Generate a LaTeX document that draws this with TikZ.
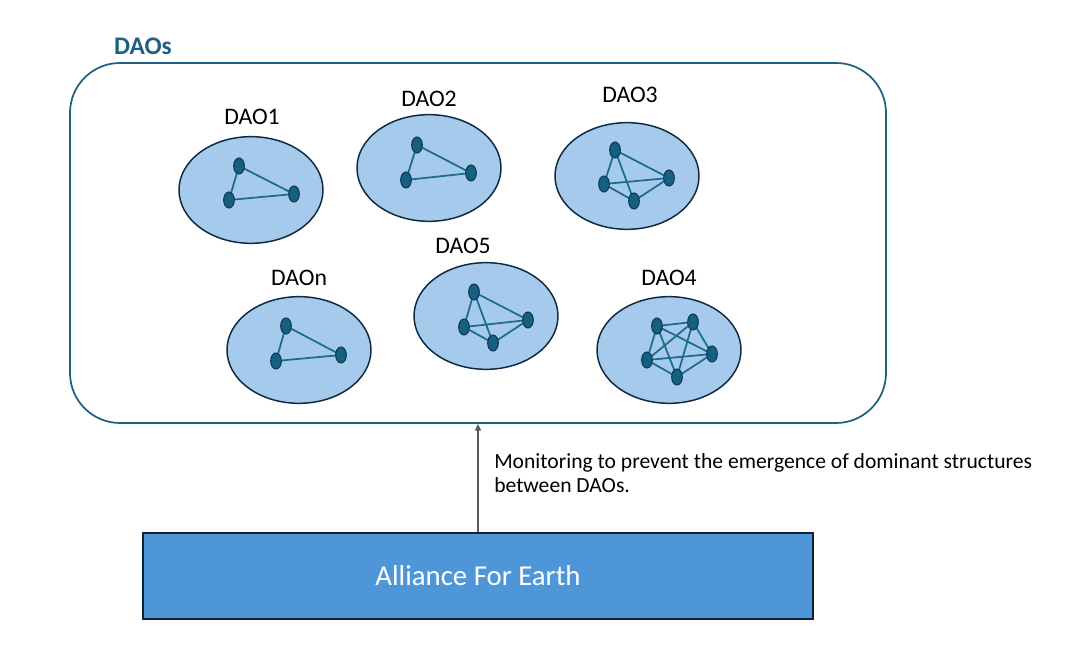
\documentclass[tikz,border=0pt]{standalone}
\usepackage{fontspec}
\setmainfont{Carlito}
\usetikzlibrary{shapes.geometric,arrows.meta}
\definecolor{ellfill}{HTML}{A6CAEC}
\definecolor{elldraw}{HTML}{0E2841}
\definecolor{dotfill}{HTML}{156082}
\definecolor{dotdraw}{HTML}{0E3A52}
\definecolor{edgecol}{HTML}{1E6A8E}
\definecolor{framecol}{HTML}{1F5F82}
\definecolor{boxfill}{HTML}{4F96D8}
\definecolor{boxdraw}{HTML}{0E2235}
\definecolor{arrowcol}{HTML}{595959}
\tikzset{
  daoell/.style={ellipse, draw=elldraw, line width=1.1pt, fill=ellfill, minimum width=108pt, minimum height=80pt, inner sep=0pt},
  dot/.style={ellipse, draw=dotdraw, line width=0.8pt, fill=dotfill, minimum width=8pt, minimum height=12pt, inner sep=0pt},
  edge/.style={draw=edgecol, line width=1.3pt},
  daolabel/.style={font=\fontsize{17.8}{20}\selectfont, text=black, inner sep=0pt},
}
\begin{document}
\begin{tikzpicture}[x=0.75pt,y=-0.75pt]
\useasboundingbox (0,0) rectangle (1067,648);
% frame
\draw[draw=framecol, line width=1.3pt, rounded corners=37.5pt] (70,63) rectangle (886,423);
\node[font=\bfseries\fontsize{19}{22}\selectfont, text=framecol, inner sep=0pt] (daos) at (143,46) {DAOs};
% ellipses
\node[daoell] (e1) at (251,190) {};
\node[daoell] (e2) at (429,168) {};
\node[daoell] (e3) at (627,176) {};
\node[daoell] (en) at (299,350) {};
\node[daoell] (e5) at (486,316) {};
\node[daoell] (e4) at (669,350) {};
% labels
\node[daolabel] (l1) at (252,117) {DAO1};
\node[daolabel] (l2) at (429,99) {DAO2};
\node[daolabel] (l3) at (630,95) {DAO3};
\node[daolabel] (ln) at (299,278) {DAOn};
\node[daolabel] (l5) at (463,246) {DAO5};
\node[daolabel] (l4) at (669,278) {DAO4};
% DAO1
\coordinate (a1) at (239,166); \coordinate (b1) at (229,200); \coordinate (c1) at (294,194);
\draw[edge] (a1) -- (b1) -- (c1) -- (a1);
\node[dot] (d1a) at (a1) {}; \node[dot] (d1b) at (b1) {}; \node[dot] (d1c) at (c1) {};
% DAO2
\coordinate (a2) at (417,145); \coordinate (b2) at (406,180); \coordinate (c2) at (471,173);
\draw[edge] (a2) -- (b2) -- (c2) -- (a2);
\node[dot] (d2a) at (a2) {}; \node[dot] (d2b) at (b2) {}; \node[dot] (d2c) at (c2) {};
% DAOn
\coordinate (an) at (286,326); \coordinate (bn) at (276,361); \coordinate (cn) at (341,355);
\draw[edge] (an) -- (bn) -- (cn) -- (an);
\node[dot] (dna) at (an) {}; \node[dot] (dnb) at (bn) {}; \node[dot] (dnc) at (cn) {};
% DAO3
\coordinate (a3) at (615,150); \coordinate (b3) at (604,184); \coordinate (c3) at (669,178); \coordinate (e3d) at (634,201);
\draw[edge] (a3) -- (b3) -- (c3) -- (a3) -- (e3d) -- (b3);
\draw[edge] (e3d) -- (c3);
\node[dot] (d3a) at (a3) {}; \node[dot] (d3b) at (b3) {}; \node[dot] (d3c) at (c3) {}; \node[dot] (d3d) at (e3d) {};
% DAO5
\coordinate (a5) at (474,292); \coordinate (b5) at (464,327); \coordinate (c5) at (528,320); \coordinate (e5d) at (493,343);
\draw[edge] (a5) -- (b5) -- (c5) -- (a5) -- (e5d) -- (b5);
\draw[edge] (e5d) -- (c5);
\node[dot] (d5a) at (a5) {}; \node[dot] (d5b) at (b5) {}; \node[dot] (d5c) at (c5) {}; \node[dot] (d5d) at (e5d) {};
% DAO4 (complete graph on 5)
\coordinate (a4) at (657,326); \coordinate (b4) at (693,322); \coordinate (c4) at (712,354); \coordinate (e4d) at (677,377); \coordinate (f4) at (647,360);
\draw[edge] (a4) -- (b4) -- (c4) -- (e4d) -- (f4) -- (a4);
\draw[edge] (a4) -- (c4); \draw[edge] (a4) -- (e4d);
\draw[edge] (b4) -- (e4d); \draw[edge] (b4) -- (f4);
\draw[edge] (c4) -- (f4);
\node[dot] (d4a) at (a4) {}; \node[dot] (d4b) at (b4) {}; \node[dot] (d4c) at (c4) {}; \node[dot] (d4d) at (e4d) {}; \node[dot] (d4e) at (f4) {};
% bottom box
\node[draw=boxdraw, line width=1.3pt, fill=boxfill, minimum width=502.5pt, minimum height=64.5pt, inner sep=0pt,
      text=white, font=\fontsize{21.6}{24}\selectfont] (afe) at (478,576) {Alliance For Earth};
\coordinate (top) at (478,424);
\draw[draw=arrowcol, line width=1pt, -{Triangle[length=5pt,width=4.5pt]}] (afe.north -| top) -- (top);
\node[anchor=base west, align=left, inner sep=0pt, font=\fontsize{16.2}{18}\selectfont] (mon) at (494,492)
  {Monitoring to prevent the emergence of dominant structures\\between DAOs.};
\end{tikzpicture}
\end{document}
